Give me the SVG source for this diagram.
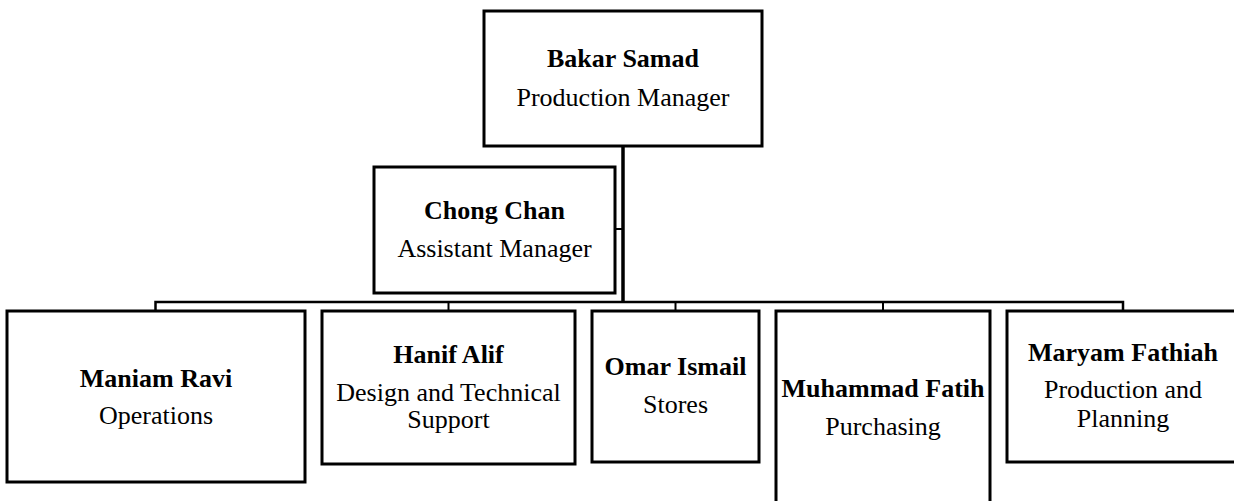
<svg xmlns="http://www.w3.org/2000/svg" width="1234" height="501" viewBox="0 0 1234 501">
<style>
.box{fill:#fff;stroke:#000;stroke-width:3}
.n{font-family:"Liberation Serif","Times New Roman",serif;font-size:26px;font-weight:bold;text-anchor:middle;fill:#000}
.t{font-family:"Liberation Serif","Times New Roman",serif;font-size:26px;text-anchor:middle;fill:#000}
.c{fill:none;stroke:#000;stroke-width:2}
</style>
<rect width="1234" height="501" fill="#fff"/>
<g id="connectors">
<line class="c" x1="623" y1="146" x2="623" y2="303" style="stroke-width:3.5"/>
<line class="c" x1="615" y1="229" x2="623" y2="229"/>
<polyline class="c" points="155.5,311 155.5,302 1123,302 1123,311" style="stroke-width:2.5"/>
<line class="c" x1="448.5" y1="302" x2="448.5" y2="311"/>
<line class="c" x1="675.5" y1="302" x2="675.5" y2="311"/>
<line class="c" x1="883" y1="302" x2="883" y2="311"/>
</g>
<g id="bakar">
<rect class="box" x="484" y="11" width="278" height="135"/>
<text class="n" x="623" y="67">Bakar Samad</text>
<text class="t" x="623" y="106">Production Manager</text>
</g>
<g id="chong">
<rect class="box" x="374" y="167" width="241" height="126"/>
<text class="n" x="494.5" y="219">Chong Chan</text>
<text class="t" x="494.5" y="257">Assistant Manager</text>
</g>
<g id="maniam">
<rect class="box" x="7" y="311" width="298" height="171"/>
<text class="n" x="156" y="387">Maniam Ravi</text>
<text class="t" x="156" y="424">Operations</text>
</g>
<g id="hanif">
<rect class="box" x="322" y="311" width="253" height="153"/>
<text class="n" x="448.5" y="363">Hanif Alif</text>
<text class="t" x="448.5" y="401">Design and Technical</text>
<text class="t" x="448.5" y="428">Support</text>
</g>
<g id="omar">
<rect class="box" x="592" y="311" width="167" height="151"/>
<text class="n" x="675.5" y="375">Omar Ismail</text>
<text class="t" x="675.5" y="413">Stores</text>
</g>
<g id="muhammad">
<rect class="box" x="776" y="311" width="214" height="200"/>
<text class="n" x="883" y="397">Muhammad Fatih</text>
<text class="t" x="883" y="435">Purchasing</text>
</g>
<g id="maryam">
<rect class="box" x="1007" y="311" width="232" height="151"/>
<text class="n" x="1123" y="361">Maryam Fathiah</text>
<text class="t" x="1123" y="398">Production and</text>
<text class="t" x="1123" y="427">Planning</text>
</g>
</svg>
